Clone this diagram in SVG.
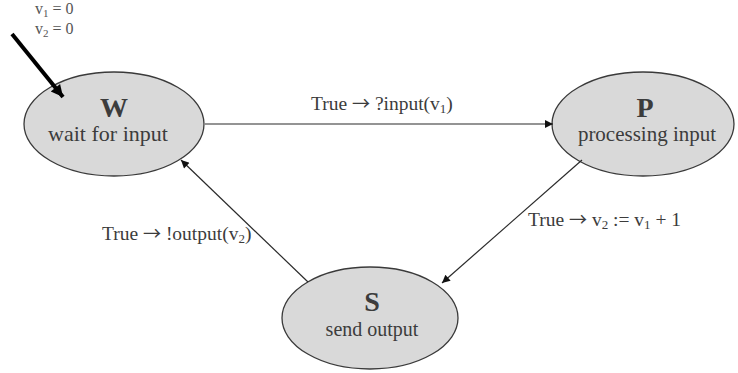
<svg xmlns="http://www.w3.org/2000/svg" width="738" height="373" viewBox="0 0 738 373">
<style>
.node{fill:#d9d9d9;stroke:#3a3a3a;stroke-width:1.3}
.t{font-family:"Liberation Serif","Times New Roman","DejaVu Serif",serif;fill:#3c3c3c}
.big{font-size:28px;font-weight:bold;text-anchor:middle}
.sub{text-anchor:middle}
.lbl{font-size:19.5px}
.ar{font-family:"Noto Sans CJK SC","DejaVu Sans",sans-serif;font-size:18px}
.init{font-size:16px;fill:#555}
.edge{stroke:#2a2a2a;stroke-width:1.2;fill:none}
</style>
<defs>
<marker id="ah" viewBox="0 0 10 10" refX="10" refY="5" markerWidth="10" markerHeight="8" markerUnits="userSpaceOnUse" orient="auto">
<path d="M0,0 L10,5 L0,10 z" fill="#111"/>
</marker>
<marker id="ahb" viewBox="0 0 10 10" refX="10" refY="5" markerWidth="14" markerHeight="12" markerUnits="userSpaceOnUse" orient="auto">
<path d="M0,0 L10,5 L0,10 z" fill="#000"/>
</marker>
</defs>
<rect width="738" height="373" fill="#fff"/>
<g id="init">
<text class="t init" x="35" y="14">v<tspan font-size="11" dy="3">1</tspan><tspan dy="-3"> = 0</tspan></text>
<text class="t init" x="35" y="34">v<tspan font-size="11" dy="3">2</tspan><tspan dy="-3"> = 0</tspan></text>
</g>
<g id="W">
<ellipse class="node" cx="114" cy="124" rx="90" ry="52"/>
<text class="t big" x="114" y="117">W</text>
<text class="t sub" x="108" y="141" font-size="22">wait for input</text>
</g>
<g id="P">
<ellipse class="node" cx="643" cy="124" rx="91" ry="52"/>
<text class="t big" x="645" y="117">P</text>
<text class="t sub" x="647" y="141" font-size="21">processing input</text>
</g>
<g id="S">
<ellipse class="node" cx="370" cy="318" rx="88" ry="51"/>
<text class="t big" x="372" y="311">S</text>
<text class="t sub" x="372" y="336" font-size="20">send output</text>
</g>
<g id="connectors">
<line x1="12" y1="34" x2="63" y2="97" stroke="#000" stroke-width="4" marker-end="url(#ahb)"/>
<line class="edge" x1="205" y1="124" x2="553" y2="124" marker-end="url(#ah)"/>
<line class="edge" x1="582" y1="160" x2="442" y2="283" marker-end="url(#ah)"/>
<line class="edge" x1="308" y1="282" x2="181" y2="160" marker-end="url(#ah)"/>
<text class="t lbl" x="311" y="110">True <tspan class="ar">→</tspan> ?input(v<tspan font-size="13" dy="3">1</tspan><tspan dy="-3">)</tspan></text>
<text class="t lbl" x="528" y="226">True <tspan class="ar">→</tspan> v<tspan font-size="13" dy="3">2</tspan><tspan dy="-3"> := v</tspan><tspan font-size="13" dy="3">1</tspan><tspan dy="-3"> + 1</tspan></text>
<text class="t lbl" x="102" y="240">True <tspan class="ar">→</tspan> !output(v<tspan font-size="13" dy="3">2</tspan><tspan dy="-3">)</tspan></text>
</g>
</svg>
